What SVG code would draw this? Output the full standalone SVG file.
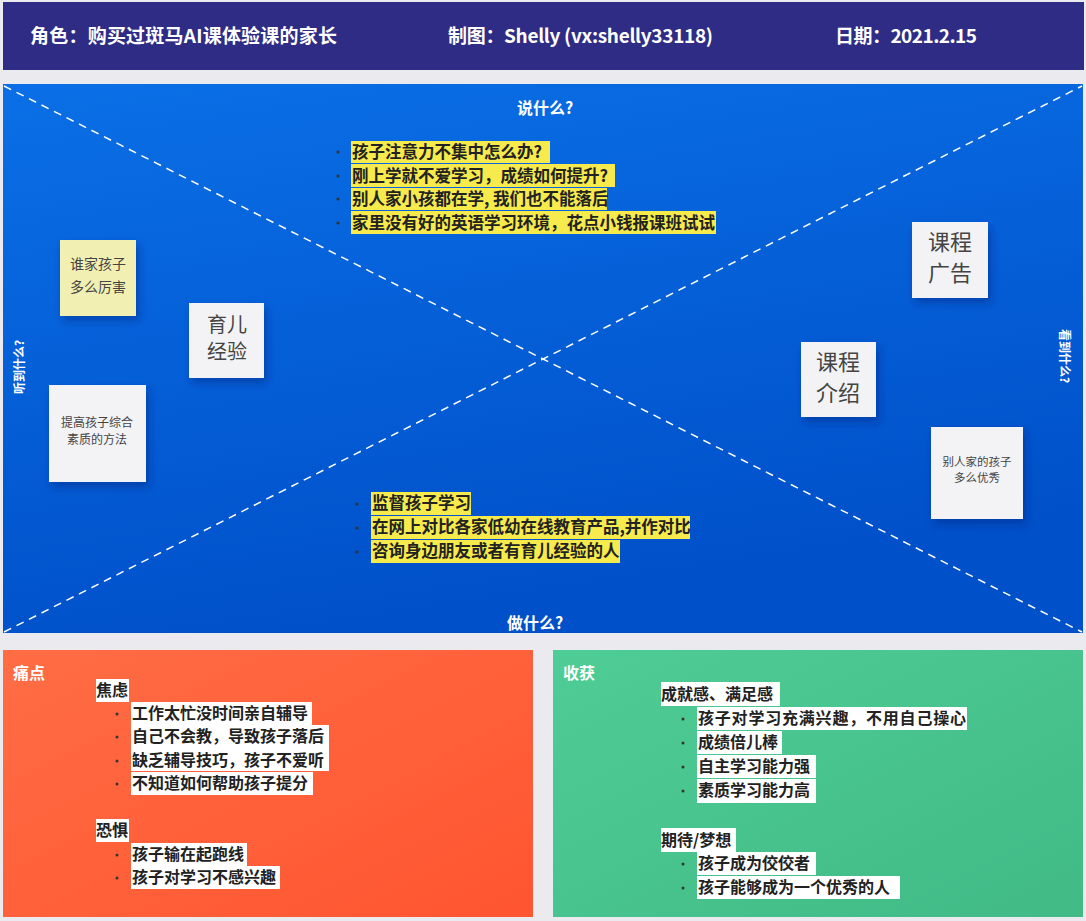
<svg xmlns="http://www.w3.org/2000/svg" width="1086" height="921" viewBox="0 0 1086 921">
<style>
text{font-family:"Noto Sans CJK SC","Noto Sans",sans-serif}
.hdr{fill:#fff;font-size:19px;font-weight:bold}
.ttl{fill:#fff;font-size:16px;font-weight:bold;text-anchor:middle}
.lbl{fill:#fff;font-size:16px;font-weight:bold}
.it{fill:#222;font-size:16px;font-weight:600}
.big{font-size:16.5px}
.hl{fill:#f6ea4c}
.wh{fill:#fff}
.dot{fill:#333}
.note{fill:#f3f3f6;filter:url(#sh)}
.nt{fill:#444;text-anchor:middle}
.vt{fill:#fff;font-size:12px;font-weight:bold;text-anchor:middle}
.diag{stroke:#fff;stroke-width:1.5;stroke-dasharray:8 6;fill:none}
</style>
<defs>
<linearGradient id="gb" x1="0" y1="0" x2="0.3" y2="1">
<stop offset="0" stop-color="#0a6fe6"/>
<stop offset="1" stop-color="#0050c9"/>
</linearGradient>
<linearGradient id="gp" x1="0" y1="0" x2="1" y2="1">
<stop offset="0" stop-color="#ff6d45"/>
<stop offset="1" stop-color="#ff5530"/>
</linearGradient>
<linearGradient id="gg" x1="0" y1="0" x2="1" y2="1">
<stop offset="0" stop-color="#4fcd96"/>
<stop offset="1" stop-color="#41ba86"/>
</linearGradient>
<filter id="sh" x="-20%" y="-20%" width="150%" height="160%">
<feDropShadow dx="3" dy="5" stdDeviation="4" flood-color="#00247a" flood-opacity="0.45"/>
</filter>
</defs>
<rect x="0" y="0" width="1086" height="921" fill="#ebebef"/>
<g id="header">
<rect x="3" y="2" width="1081" height="68" fill="#2f2c85"/>
<text class="hdr" x="30" y="43" textLength="307">角色：购买过斑马AI课体验课的家长</text>
<text class="hdr" x="448" y="43" textLength="265">制图：Shelly (vx:shelly33118)</text>
<text class="hdr" x="835" y="43" textLength="142">日期：2021.2.15</text>
</g>
<g id="quadrant">
<rect x="3" y="84" width="1080" height="549" fill="url(#gb)"/>
<text class="ttl" x="545" y="114">说什么?</text>
<text class="ttl" x="535" y="629">做什么?</text>
<text class="vt" transform="translate(24 367) rotate(-90)">听到什么?</text>
<text class="vt" transform="translate(1060 356) rotate(90)">看到什么?</text>
</g>
<g id="connectors">
<line class="diag" x1="4" y1="86" x2="1082" y2="632"/>
<line class="diag" x1="4" y1="632" x2="1082" y2="86"/>
</g>
<g id="say">
<rect class="hl" x="351" y="141" width="199" height="22"/>
<rect class="hl" x="351" y="164" width="264" height="23"/>
<rect class="hl" x="351" y="188" width="256" height="22"/>
<rect class="hl" x="351" y="211" width="365" height="23"/>
<circle class="dot" cx="338" cy="152" r="1.6"/>
<circle class="dot" cx="338" cy="176" r="1.6"/>
<circle class="dot" cx="338" cy="199" r="1.6"/>
<circle class="dot" cx="338" cy="223" r="1.6"/>
<text class="it big" x="352" y="158">孩子注意力不集中怎么办?</text>
<text class="it big" x="352" y="182">刚上学就不爱学习，成绩如何提升?</text>
<text class="it big" x="352" y="205">别人家小孩都在学, 我们也不能落后</text>
<text class="it big" x="352" y="229">家里没有好的英语学习环境，花点小钱报课班试试</text>
</g>
<g id="do">
<rect class="hl" x="371" y="492" width="100" height="23"/>
<rect class="hl" x="371" y="516" width="319" height="23"/>
<rect class="hl" x="371" y="540" width="249" height="23"/>
<circle class="dot" cx="357" cy="504" r="1.6"/>
<circle class="dot" cx="357" cy="528" r="1.6"/>
<circle class="dot" cx="357" cy="552" r="1.6"/>
<text class="it big" x="372" y="509">监督孩子学习</text>
<text class="it big" x="372" y="533">在网上对比各家低幼在线教育产品,并作对比</text>
<text class="it big" x="372" y="557">咨询身边朋友或者有育儿经验的人</text>
</g>
<g id="note-whose-child">
<rect x="60" y="240" width="76" height="76" fill="#f2efb2" filter="url(#sh)"/>
<text class="nt" x="98" y="269" font-size="14">谁家孩子</text>
<text class="nt" x="98" y="292" font-size="14">多么厉害</text>
</g>
<g id="note-parenting">
<rect class="note" x="189" y="303" width="75" height="75"/>
<text class="nt" x="227" y="332" font-size="20">育儿</text>
<text class="nt" x="227" y="359" font-size="20">经验</text>
</g>
<g id="note-methods">
<rect class="note" x="49" y="385" width="97" height="97"/>
<text class="nt" x="97" y="427" font-size="12">提高孩子综合</text>
<text class="nt" x="97" y="444" font-size="12">素质的方法</text>
</g>
<g id="note-ads">
<rect class="note" x="912" y="222" width="76" height="76"/>
<text class="nt" x="950" y="250" font-size="22">课程</text>
<text class="nt" x="950" y="281" font-size="22">广告</text>
</g>
<g id="note-intro">
<rect class="note" x="801" y="342" width="75" height="75"/>
<text class="nt" x="838" y="370" font-size="22">课程</text>
<text class="nt" x="838" y="401" font-size="22">介绍</text>
</g>
<g id="note-others">
<rect class="note" x="931" y="427" width="92" height="92"/>
<text class="nt" x="977" y="466" font-size="11.5">别人家的孩子</text>
<text class="nt" x="977" y="482" font-size="11.5">多么优秀</text>
</g>
<g id="pain">
<rect x="3" y="650" width="530" height="267" fill="url(#gp)"/>
<text class="lbl" x="13" y="679">痛点</text>
<rect class="wh" x="96" y="679" width="33" height="23"/>
<text class="it" x="96" y="696">焦虑</text>
<rect class="wh" x="131" y="702" width="181" height="23"/>
<rect class="wh" x="131" y="725" width="198" height="23"/>
<rect class="wh" x="131" y="748" width="198" height="23"/>
<rect class="wh" x="131" y="772" width="182" height="23"/>
<circle class="dot" cx="117" cy="714" r="1.5"/>
<circle class="dot" cx="117" cy="737" r="1.5"/>
<circle class="dot" cx="117" cy="761" r="1.5"/>
<circle class="dot" cx="117" cy="784" r="1.5"/>
<text class="it" x="132" y="719">工作太忙没时间亲自辅导</text>
<text class="it" x="132" y="742">自己不会教，导致孩子落后</text>
<text class="it" x="132" y="766">缺乏辅导技巧，孩子不爱听</text>
<text class="it" x="132" y="789">不知道如何帮助孩子提分</text>
<rect class="wh" x="96" y="819" width="33" height="23"/>
<text class="it" x="96" y="836">恐惧</text>
<rect class="wh" x="131" y="843" width="116" height="23"/>
<rect class="wh" x="131" y="866" width="149" height="23"/>
<circle class="dot" cx="117" cy="855" r="1.5"/>
<circle class="dot" cx="117" cy="878" r="1.5"/>
<text class="it" x="132" y="860">孩子输在起跑线</text>
<text class="it" x="132" y="883">孩子对学习不感兴趣</text>
</g>
<g id="gain">
<rect x="553" y="650" width="530" height="267" fill="url(#gg)"/>
<text class="lbl" x="563" y="679">收获</text>
<rect class="wh" x="661" y="682" width="119" height="24"/>
<text class="it" x="661" y="700">成就感、满足感</text>
<rect class="wh" x="697" y="707" width="270" height="23"/>
<rect class="wh" x="697" y="731" width="85" height="23"/>
<rect class="wh" x="697" y="755" width="119" height="23"/>
<rect class="wh" x="697" y="779" width="119" height="24"/>
<circle class="dot" cx="683" cy="719" r="1.5"/>
<circle class="dot" cx="683" cy="743" r="1.5"/>
<circle class="dot" cx="683" cy="767" r="1.5"/>
<circle class="dot" cx="683" cy="791" r="1.5"/>
<text class="it" x="698" y="724" textLength="268">孩子对学习充满兴趣，不用自己操心</text>
<text class="it" x="698" y="748">成绩倍儿棒</text>
<text class="it" x="698" y="772">自主学习能力强</text>
<text class="it" x="698" y="796">素质学习能力高</text>
<rect class="wh" x="661" y="828" width="75" height="24"/>
<text class="it" x="661" y="846">期待/梦想</text>
<rect class="wh" x="697" y="852" width="119" height="23"/>
<rect class="wh" x="697" y="876" width="203" height="23"/>
<circle class="dot" cx="683" cy="864" r="1.5"/>
<circle class="dot" cx="683" cy="888" r="1.5"/>
<text class="it" x="698" y="869">孩子成为佼佼者</text>
<text class="it" x="698" y="893">孩子能够成为一个优秀的人</text>
</g>
</svg>
